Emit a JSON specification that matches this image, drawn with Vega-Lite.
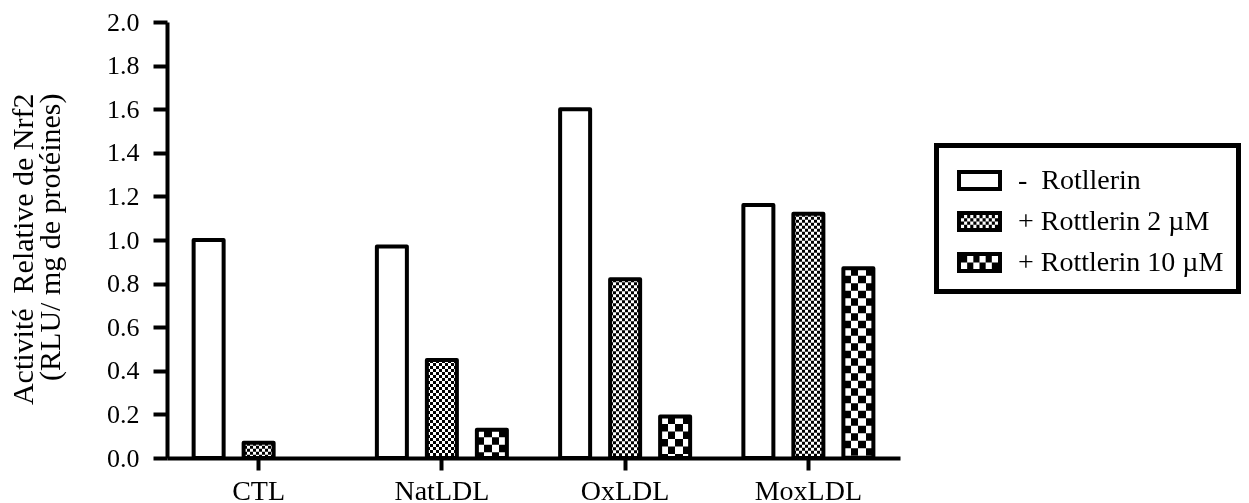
{
  "$schema": "https://vega.github.io/schema/vega-lite/v6.json",
  "width": 733,
  "height": 436,
  "autosize": {"type": "none"},
  "padding": {"left": 167, "top": 22, "right": 349, "bottom": 45},
  "background": "white",
  "config": {"view": {"stroke": null}, "font": "Liberation Serif", "legend": {"strokeWidth": 5, "strokeColor": "black"}},
  "data": {
    "values": [
      {"group": "CTL", "treatment": "-\u00a0 Rotllerin", "value": 1.0},
      {"group": "CTL", "treatment": "+ Rottlerin 2 µM", "value": 0.07},
      {"group": "NatLDL", "treatment": "-\u00a0 Rotllerin", "value": 0.97},
      {"group": "NatLDL", "treatment": "+ Rottlerin 2 µM", "value": 0.45},
      {"group": "NatLDL", "treatment": "+ Rottlerin 10 µM", "value": 0.13},
      {"group": "OxLDL", "treatment": "-\u00a0 Rotllerin", "value": 1.6},
      {"group": "OxLDL", "treatment": "+ Rottlerin 2 µM", "value": 0.82},
      {"group": "OxLDL", "treatment": "+ Rottlerin 10 µM", "value": 0.19},
      {"group": "MoxLDL", "treatment": "-\u00a0 Rotllerin", "value": 1.16},
      {"group": "MoxLDL", "treatment": "+ Rottlerin 2 µM", "value": 1.12},
      {"group": "MoxLDL", "treatment": "+ Rottlerin 10 µM", "value": 0.87}
    ]
  },
  "encoding": {
    "x": {
      "field": "group", "type": "nominal",
      "sort": ["CTL", "NatLDL", "OxLDL", "MoxLDL"],
      "scale": {"domain": ["CTL", "NatLDL", "OxLDL", "MoxLDL"], "paddingInner": 0, "paddingOuter": 0},
      "axis": {
        "title": null, "labelAngle": 0, "labelFont": "Liberation Serif", "labelFontSize": 28,
        "labelColor": "black", "domainColor": "black", "domainWidth": 4, "tickColor": "black",
        "tickWidth": 4, "tickSize": 12, "labelPadding": 7, "grid": false
      }
    },
    "xOffset": {
      "field": "treatment", "type": "nominal",
      "scale": {"domain": ["-\u00a0 Rotllerin", "+ Rottlerin 2 µM", "+ Rottlerin 10 µM"], "paddingInner": 0.4, "paddingOuter": 0.5325}
    },
    "y": {
      "field": "value", "type": "quantitative",
      "scale": {"domain": [0, 2], "nice": false},
      "axis": {
        "values": [0, 0.2, 0.4, 0.6, 0.8, 1.0, 1.2, 1.4, 1.6, 1.8, 2.0],
        "format": ".1f",
        "title": ["Activité\u00a0 Relative de Nrf2", "(RLU/ mg de protéines)"],
        "titleFont": "Liberation Serif", "titleFontSize": 30, "titleFontWeight": "normal",
        "titleColor": "black", "titleLineHeight": 27,
        "titleAngle": -90, "titleAlign": "right", "titleBaseline": "alphabetic",
        "titleX": -135, "titleY": 71,
        "labelFont": "Liberation Serif", "labelFontSize": 26, "labelColor": "black", "labelPadding": 14,
        "tickSize": 14, "tickWidth": 4, "tickColor": "black",
        "domainWidth": 4, "domainColor": "black", "grid": false
      }
    }
  },
  "layer": [
    {
      "mark": {"type": "bar"},
      "encoding": {
        "fill": {
          "condition": [
            {"test": "datum.treatment === '+ Rottlerin 2 µM'", "value": {"gradient": "linear", "x1": 0, "y1": 0, "x2": 1, "y2": 0, "stops": [
              {"offset": 0, "color": "black"}, {"offset": 0.1, "color": "black"}, {"offset": 0.1, "color": "white"}, {"offset": 0.2, "color": "white"},
              {"offset": 0.2, "color": "black"}, {"offset": 0.3, "color": "black"}, {"offset": 0.3, "color": "white"}, {"offset": 0.4, "color": "white"},
              {"offset": 0.4, "color": "black"}, {"offset": 0.5, "color": "black"}, {"offset": 0.5, "color": "white"}, {"offset": 0.6, "color": "white"},
              {"offset": 0.6, "color": "black"}, {"offset": 0.7, "color": "black"}, {"offset": 0.7, "color": "white"}, {"offset": 0.8, "color": "white"},
              {"offset": 0.8, "color": "black"}, {"offset": 0.9, "color": "black"}, {"offset": 0.9, "color": "white"}, {"offset": 1, "color": "white"}
            ]}},
            {"test": "datum.treatment === '+ Rottlerin 10 µM'", "value": {"gradient": "linear", "x1": 0, "y1": 0, "x2": 1, "y2": 0, "stops": [
              {"offset": 0, "color": "black"}, {"offset": 0.25, "color": "black"}, {"offset": 0.25, "color": "white"}, {"offset": 0.5, "color": "white"},
              {"offset": 0.5, "color": "black"}, {"offset": 0.75, "color": "black"}, {"offset": 0.75, "color": "white"}, {"offset": 1, "color": "white"}
            ]}}
          ],
          "value": "white"
        }
      }
    },
    {
      "transform": [{"filter": "datum.treatment === '+ Rottlerin 2 µM'"}],
      "mark": {"type": "rule", "blend": "difference", "stroke": "white", "strokeWidth": 30, "strokeDash": [3, 3], "strokeCap": "butt"},
      "encoding": {"y2": {"datum": 0}}
    },
    {
      "transform": [{"filter": "datum.treatment === '+ Rottlerin 10 µM'"}],
      "mark": {"type": "rule", "blend": "difference", "stroke": "white", "strokeWidth": 30, "strokeDash": [7.5, 7.5], "strokeCap": "butt"},
      "encoding": {"y2": {"datum": 0}}
    },
    {
      "mark": {"type": "bar", "fill": "white", "fillOpacity": 0, "stroke": "black", "strokeWidth": 4, "strokeJoin": "round"}
    },
    {
      "mark": {"type": "point", "filled": true, "color": "black", "opacity": 0, "size": 1},
      "encoding": {
        "shape": {
          "field": "treatment", "type": "nominal",
          "scale": {
            "domain": ["-\u00a0 Rotllerin", "+ Rottlerin 2 µM", "+ Rottlerin 10 µM"],
            "range": [
              "M-0.725,-0.525H1.525V0.525H-0.725Z M-0.525,-0.325V0.325H1.325V-0.325Z",
              "M-0.725,-0.525H1.525V0.525H-0.725Z M-0.525,-0.325V0.325H1.325V-0.325Z M-0.525,-0.325h0.154v0.1625h-0.154Z M-0.217,-0.325h0.154v0.1625h-0.154Z M0.092,-0.325h0.154v0.1625h-0.154Z M0.4,-0.325h0.154v0.1625h-0.154Z M0.708,-0.325h0.154v0.1625h-0.154Z M1.017,-0.325h0.154v0.1625h-0.154Z M-0.371,-0.1625h0.154v0.1625h-0.154Z M-0.062,-0.1625h0.154v0.1625h-0.154Z M0.246,-0.1625h0.154v0.1625h-0.154Z M0.554,-0.1625h0.154v0.1625h-0.154Z M0.863,-0.1625h0.154v0.1625h-0.154Z M1.171,-0.1625h0.154v0.1625h-0.154Z M-0.525,0h0.154v0.1625h-0.154Z M-0.217,0h0.154v0.1625h-0.154Z M0.092,0h0.154v0.1625h-0.154Z M0.4,0h0.154v0.1625h-0.154Z M0.708,0h0.154v0.1625h-0.154Z M1.017,0h0.154v0.1625h-0.154Z M-0.371,0.1625h0.154v0.1625h-0.154Z M-0.062,0.1625h0.154v0.1625h-0.154Z M0.246,0.1625h0.154v0.1625h-0.154Z M0.554,0.1625h0.154v0.1625h-0.154Z M0.863,0.1625h0.154v0.1625h-0.154Z M1.171,0.1625h0.154v0.1625h-0.154Z",
              "M-0.725,-0.525H1.525V0.525H-0.725Z M-0.525,-0.325V0.325H1.325V-0.325Z M-0.525,-0.325h0.308v0.325h-0.308Z M0.092,-0.325h0.308v0.325h-0.308Z M0.708,-0.325h0.308v0.325h-0.308Z M-0.217,0h0.308v0.325h-0.308Z M0.4,0h0.308v0.325h-0.308Z M1.017,0h0.308v0.325h-0.308Z"
            ]
          },
          "legend": {
            "title": null, "orient": "none", "legendX": 769.5, "legendY": 123.5,
            "padding": 15, "rowPadding": 7, "labelOffset": 26.5,
            "labelFont": "Liberation Serif", "labelFontSize": 28, "labelColor": "black", "labelLimit": 400,
            "symbolSize": 1600, "symbolOpacity": 1, "symbolStrokeWidth": 0, "symbolFillColor": "black",
            "strokeColor": "black",
            "encode": {"legend": {"enter": {"strokeWidth": {"value": 5}}, "update": {"strokeWidth": {"value": 5}}}}
          }
        }
      }
    }
  ]
}
